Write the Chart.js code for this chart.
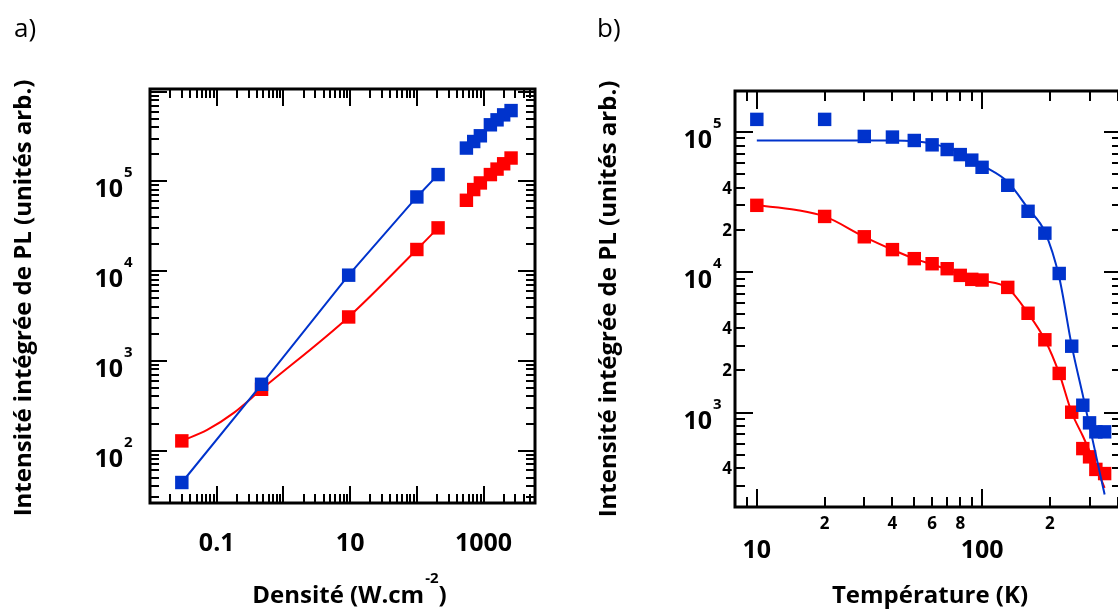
<!DOCTYPE html>
<html>
<head>
<meta charset="utf-8">
<title>PL integree</title>
<script src="https://cdn.jsdelivr.net/npm/chart.js@4.4.1/dist/chart.umd.min.js"></script>
<style>
  html, body { margin: 0; padding: 0; background: #fff; overflow: hidden; width: 1118px; height: 613px; }
  #chartA { position: absolute; left: 0; top: 0; }
  #chartB { position: absolute; left: 560px; top: 0; }
</style>
</head>
<body>
<canvas id="chartA" width="560" height="613"></canvas>
<canvas id="chartB" width="620" height="613"></canvas>
<script>
// a) intensity vs excitation density
const densityLow = [0.03, 0.47, 9.5, 100, 208];
const blueLow = [44, 547, 9000, 67000, 119000];
const redLow = [128, 481, 3080, 17400, 30300];
const densityHigh = [553, 711, 895, 1265, 1592, 2000, 2583];
const blueHigh = [235000, 278000, 322000, 427000, 485000, 551000, 615000];
const redHigh = [61500, 81000, 96000, 119000, 137000, 157000, 182000];
// red smooth curve of panel a
const densityRedFit = [0.03, 0.073, 0.18, 0.47, 9.5, 100, 208];
const redFitA = [128, 171, 263, 481, 3080, 17400, 30300];

// b) intensity vs temperature
const temps = [10, 20, 30, 40, 50, 60, 70, 80, 90, 100, 130, 160, 190, 220, 250, 280, 300, 320, 350];
const blueTemp = [123000, 123000, 93000, 92000, 87000, 81000, 75000, 69000, 63000, 56000, 41700, 27200, 19000, 9800, 2970, 1127, 844, 728, 728];
const redTemp = [30000, 25000, 17900, 14500, 12500, 11500, 10600, 9500, 8900, 8800, 7800, 5100, 3300, 1900, 1005, 553, 483, 393, 367];

// fit curves
const fitTempBlue = [10, 20, 30, 40, 50, 60, 70, 80, 90, 100, 130, 160, 190, 220, 250, 280, 310, 350];
const blueFit = [87000, 87000, 87000, 87000, 86000, 82600, 77000, 70800, 64600, 58000, 44000, 28500, 19400, 9200, 3000, 1330, 630, 260];
const fitTempRed = [10, 15, 20, 30, 40, 50, 60, 70, 80, 90, 100, 130, 160, 190, 220, 250, 280, 310, 350];
const redFit = [30000, 27800, 25000, 17900, 14500, 12500, 11400, 10500, 9600, 9000, 8700, 7700, 5100, 3300, 1900, 1000, 680, 470, 290];

// tick labels
const densityTicks = [0.1, 10, 1000];
const densityTickLabels = ["0.1", "10", "1000"];
const intensityDecadesA = [2, 3, 4, 5];
const intensityDecadesB = [3, 4, 5];
const intensitySmallTicksB = [400, 2000, 4000, 20000, 40000];
const intensitySmallLabelsB = ["4", "2", "4", "2", "4"];
const tempSmallTicks = [20, 40, 60, 80, 200];
const tempSmallLabels = ["2", "4", "6", "8", "2"];
const tempBigTicks = [10, 100];
const tempBigLabels = ["10", "100"];

const BLUE = "#0033cc";
const RED = "#ff0000";
const FONT = "'Open Sans', 'DejaVu Sans', sans-serif";

function xy(xs, ys) {
  return xs.map(function (x, i) {
    return { x: x, y: ys[i] };
  });
}

function logTicks(min, max) {
  const out = [];
  for (let e = Math.floor(Math.log10(min)); e <= Math.ceil(Math.log10(max)); e++) {
    for (let m = 1; m <= 9; m++) {
      const v = m * Math.pow(10, e);
      if (v >= min && v <= max) out.push({ v: v, major: m === 1 });
    }
  }
  return out;
}

// box with inward ticks on all four sides
function drawBox(chart, majorLen, minorLen) {
  const ctx = chart.ctx;
  const a = chart.chartArea;
  const xs = chart.scales.x;
  const ys = chart.scales.y;
  ctx.save();
  ctx.strokeStyle = "#000";
  ctx.lineWidth = 2;
  logTicks(xs.min, xs.max).forEach(function (t) {
    const px = Math.round(xs.getPixelForValue(t.v));
    if (px <= a.left + 1 || px >= a.right - 1) return;
    const len = t.major ? majorLen : minorLen;
    ctx.beginPath();
    ctx.moveTo(px, a.bottom);
    ctx.lineTo(px, a.bottom - len);
    ctx.moveTo(px, a.top);
    ctx.lineTo(px, a.top + len);
    ctx.stroke();
  });
  logTicks(ys.min, ys.max).forEach(function (t) {
    const py = Math.round(ys.getPixelForValue(t.v));
    if (py <= a.top + 1 || py >= a.bottom - 1) return;
    const len = t.major ? majorLen : minorLen;
    ctx.beginPath();
    ctx.moveTo(a.left, py);
    ctx.lineTo(a.left + len, py);
    ctx.moveTo(a.right, py);
    ctx.lineTo(a.right - len, py);
    ctx.stroke();
  });
  ctx.lineWidth = 3;
  ctx.strokeRect(a.left, a.top, a.right - a.left, a.bottom - a.top);
  ctx.restore();
}

// "10" with a raised exponent, right edge of the "10" at xRight
function drawPow(ctx, xRight, yTick, exp) {
  ctx.textAlign = "right";
  ctx.textBaseline = "alphabetic";
  ctx.font = "bold 25px " + FONT;
  ctx.fillText("10", xRight, yTick + 16);
  ctx.textAlign = "left";
  ctx.font = "bold 15px " + FONT;
  ctx.fillText(String(exp), xRight + 1, yTick - 4);
}

function drawYTitle(ctx, x, y) {
  ctx.save();
  ctx.translate(x, y);
  ctx.rotate(-Math.PI / 2);
  ctx.textAlign = "center";
  ctx.textBaseline = "alphabetic";
  ctx.font = "bold 24px " + FONT;
  ctx.fillText("Intensité intégrée de PL (unités arb.)", 0, 0);
  ctx.restore();
}

const panelA = {
  id: "panelA",
  afterDraw: function (chart) {
    const ctx = chart.ctx;
    const a = chart.chartArea;
    const xs = chart.scales.x;
    const ys = chart.scales.y;
    drawBox(chart, 17, 9);
    ctx.save();
    ctx.fillStyle = "#000";

    ctx.font = "bold 25px " + FONT;
    ctx.textAlign = "center";
    ctx.textBaseline = "alphabetic";
    densityTicks.forEach(function (v, i) {
      ctx.fillText(densityTickLabels[i], xs.getPixelForValue(v), 551);
    });

    intensityDecadesA.forEach(function (e) {
      drawPow(ctx, a.left - 27, ys.getPixelForValue(Math.pow(10, e)), e);
    });

    drawYTitle(ctx, 31, 298);

    // x title with superscript
    const main = "Densité (W.cm";
    ctx.font = "bold 24px " + FONT;
    const w1 = ctx.measureText(main).width;
    const w3 = ctx.measureText(")").width;
    ctx.font = "bold 15px " + FONT;
    const w2 = ctx.measureText("-2").width;
    let x0 = 349 - (w1 + w2 + w3) / 2;
    ctx.textAlign = "left";
    ctx.font = "bold 24px " + FONT;
    ctx.fillText(main, x0, 603);
    ctx.font = "bold 15px " + FONT;
    ctx.fillText("-2", x0 + w1 + 1, 583);
    ctx.font = "bold 24px " + FONT;
    ctx.fillText(")", x0 + w1 + w2 + 1, 603);

    ctx.font = "26px " + FONT;
    ctx.fillText("a)", 14, 37);
    ctx.restore();
  },
};

const panelB = {
  id: "panelB",
  afterDraw: function (chart) {
    const ctx = chart.ctx;
    const a = chart.chartArea;
    const xs = chart.scales.x;
    const ys = chart.scales.y;
    drawBox(chart, 18, 10);
    ctx.save();
    ctx.fillStyle = "#000";

    ctx.textAlign = "center";
    ctx.textBaseline = "alphabetic";
    ctx.font = "bold 17px " + FONT;
    tempSmallTicks.forEach(function (v, i) {
      ctx.fillText(tempSmallLabels[i], xs.getPixelForValue(v), 529);
    });
    ctx.font = "bold 25px " + FONT;
    tempBigTicks.forEach(function (v, i) {
      ctx.fillText(tempBigLabels[i], xs.getPixelForValue(v), 558);
    });

    intensityDecadesB.forEach(function (e) {
      drawPow(ctx, a.left - 23, ys.getPixelForValue(Math.pow(10, e)), e);
    });
    ctx.textAlign = "right";
    ctx.font = "bold 17px " + FONT;
    intensitySmallTicksB.forEach(function (v, i) {
      ctx.fillText(intensitySmallLabelsB[i], a.left - 3, ys.getPixelForValue(v) + 6);
    });

    drawYTitle(ctx, 56, 299);

    ctx.textAlign = "center";
    ctx.font = "bold 24px " + FONT;
    ctx.fillText("Température (K)", 370, 603);

    ctx.textAlign = "left";
    ctx.font = "26px " + FONT;
    ctx.fillText("b)", 37, 37);
    ctx.restore();
  },
};

function squares(data, color) {
  return {
    data: data,
    showLine: false,
    backgroundColor: color,
    borderColor: color,
    pointStyle: "rect",
    pointRadius: 9.5,
    pointBorderWidth: 0,
  };
}

function curve(data, color, mode) {
  return {
    data: data,
    borderColor: color,
    borderWidth: 2,
    pointRadius: 0,
    cubicInterpolationMode: mode,
    tension: 0,
  };
}

function baseOptions(padding, xMin, xMax, yMin, yMax) {
  return {
    responsive: false,
    animation: false,
    events: [],
    layout: { padding: padding },
    scales: {
      x: { type: "logarithmic", min: xMin, max: xMax, display: false },
      y: { type: "logarithmic", min: yMin, max: yMax, display: false },
    },
    plugins: {
      legend: { display: false },
      tooltip: { enabled: false },
    },
  };
}

new Chart(document.getElementById("chartA"), {
  type: "line",
  data: {
    datasets: [
      squares(xy(densityLow, blueLow), BLUE),
      curve(xy(densityLow, blueLow), BLUE, "default"),
      squares(xy(densityHigh, blueHigh), BLUE),
      squares(xy(densityLow, redLow), RED),
      curve(xy(densityRedFit, redFitA), RED, "monotone"),
      squares(xy(densityHigh, redHigh), RED),
    ],
  },
  options: baseOptions({ left: 150, top: 89, right: 25, bottom: 110 }, 0.01, 5900, 26, 1.07e6),
  plugins: [panelA],
});

new Chart(document.getElementById("chartB"), {
  type: "line",
  data: {
    datasets: [
      curve(xy(fitTempBlue, blueFit), BLUE, "monotone"),
      squares(xy(temps, blueTemp), BLUE),
      curve(xy(fitTempRed, redFit), RED, "monotone"),
      squares(xy(temps, redTemp), RED),
    ],
  },
  options: baseOptions({ left: 175, top: 91, right: 58, bottom: 106 }, 8, 418, 212, 196000),
  plugins: [panelB],
});
</script>
</body>
</html>
